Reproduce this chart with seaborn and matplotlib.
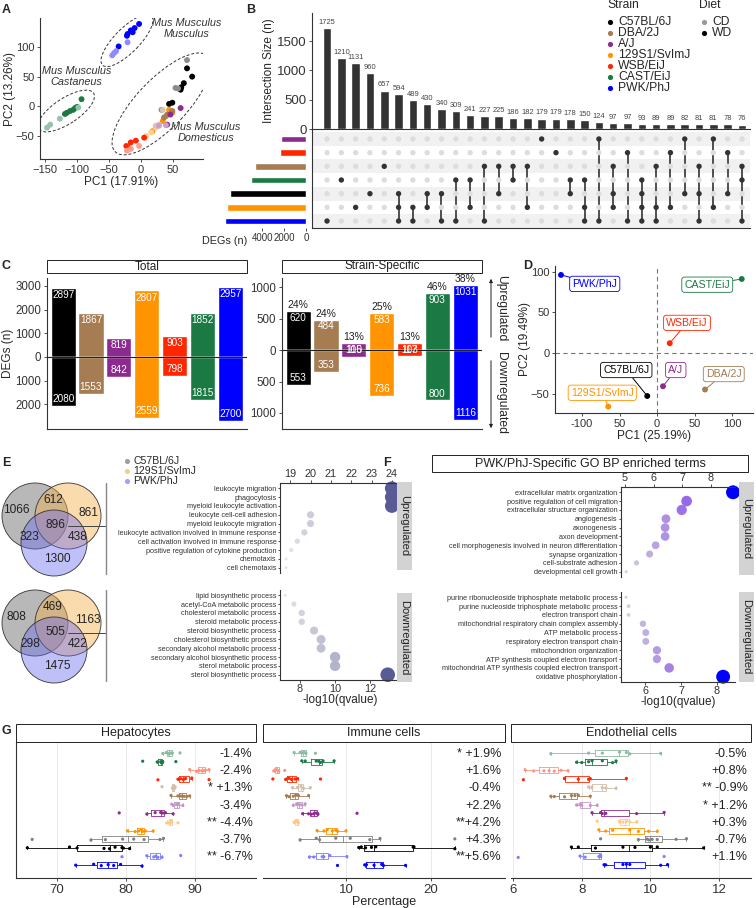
import matplotlib
matplotlib.use("Agg")
import matplotlib.pyplot as plt
import matplotlib.transforms as mtransforms
from matplotlib.colors import LinearSegmentedColormap, to_rgb, Normalize
from matplotlib.patches import Ellipse, Circle, Rectangle
import numpy as np
import pandas as pd
import seaborn as sns

# ---------------- data ----------------
STRAINS = ["C57BL/6J", "DBA/2J", "A/J", "129S1/SvImJ", "WSB/EiJ", "CAST/EiJ", "PWK/PhJ"]
STRAIN_COLORS = ["#000000", "#a67c52", "#8b2a8f", "#ff9300", "#ff2600", "#1b7a43", "#0000ff"]

# A: PCA of all samples
A_PC1 = [-3, -10, -16, -21, -22, -13, -35, -21, -39, -45, -42,
         -93, -100, -106, -111, -116, -119, -103, -127, -142, -147, -98,
         72, 80, 67, 62, 49, 44, 63, 72, 54, 32, 58,
         44, 39, 34, 49, 18, 23, 8, 16,
         -8, -16, -23, 5, -20, -22, -16, -3,
         36, 41, 49, 34, 28, 23,
         62, 41, 46, 39, 28]
A_PC2 = [139, 132, 128, 122, 119, 125, 101, 108, 93, 86, 90,
         12, -1, -6, -8, -11, -13, -3, -21, -31, -36, -2,
         64, 50, 39, 28, 6, 4, 32, 78, 31, -6, 30,
         -6, -17, -25, -11, -42, -36, -50, -44,
         -58, -61, -67, -53, -70, -75, -72, -67,
         -19, -14, -8, -6, -31, -33,
         -3, -31, -14, -32, -33]
A_GROUP = (["PWK/PhJ WD"] * 7 + ["PWK/PhJ CD"] * 4 + ["CAST/EiJ WD"] * 7 + ["CAST/EiJ CD"] * 4
           + ["C57BL/6J WD"] * 7 + ["C57BL/6J CD"] * 4 + ["129S1/SvImJ WD"] * 5 + ["129S1/SvImJ CD"] * 3
           + ["WSB/EiJ WD"] * 5 + ["WSB/EiJ CD"] * 3 + ["DBA/2J WD"] * 3 + ["DBA/2J CD"] * 3
           + ["A/J WD"] * 3 + ["A/J CD"] * 2)

# B: upset plot
UPSET_SIZES = [1725, 1210, 1131, 960, 657, 594, 489, 430, 340, 309, 241, 227, 225, 186, 182,
               179, 179, 178, 150, 124, 97, 97, 93, 89, 89, 82, 81, 81, 78, 76]
UPSET_SETS = ["A/J", "WSB/EiJ", "DBA/2J", "CAST/EiJ", "C57BL/6J", "129S1/SvImJ", "PWK/PhJ"]
UPSET_SET_SIZES = [2290, 2380, 4660, 5030, 6950, 7220, 7400]
UPSET_MEMBERS = [[6], [3], [5], [4], [2], [4, 5, 6], [5, 6], [4, 5], [4, 6], [3, 6], [3, 5], [2, 6],
                 [2, 4], [2, 3], [2, 5], [0], [1], [3, 4], [3, 5, 6], [0, 6], [2, 4, 5], [1, 6],
                 [3, 4, 5, 6], [2, 5, 6], [1, 5], [0, 4], [2, 4, 6], [0, 5], [1, 4], [2, 3, 6]]

# C: DEG counts
TOTAL_UP = [2897, 1867, 819, 2807, 903, 1852, 2957]
TOTAL_DOWN = [2080, 1553, 842, 2559, 798, 1815, 2700]
SPEC_UP = [620, 484, 110, 583, 117, 903, 1031]
SPEC_DOWN = [553, 353, 105, 736, 103, 800, 1116]
SPEC_PCT = ["24%", "24%", "13%", "25%", "13%", "46%", "38%"]

# D: strain-level PCA
D_PC1 = [-128, 113, 17, 8, 64, -13, -65]
D_PC2 = [96, 91, 12, -41, -45, -53, -66]
D_STRAIN = ["PWK/PhJ", "CAST/EiJ", "WSB/EiJ", "A/J", "DBA/2J", "C57BL/6J", "129S1/SvImJ"]
D_LABEL_X = [-83, 67, 40, 25, 89, -41, -73]
D_LABEL_Y = [85, 84, 37, -21, -26, -21, -49]

# E: venn counts and GO terms
VENN_UP = ["1066", "612", "861", "896", "323", "438", "1300"]
VENN_DOWN = ["808", "469", "1163", "505", "298", "422", "1475"]
E_UP_TERMS = ["leukocyte migration", "phagocytosis", "myeloid leukocyte activation",
              "leukocyte cell-cell adhesion", "myeloid leukocyte migration",
              "leukocyte activation involved in immune response",
              "cell activation involved in immune response",
              "positive regulation of cytokine production", "chemotaxis", "cell chemotaxis"]
E_UP_Q = [24.0, 24.0, 24.0, 20.0, 20.0, 19.7, 19.35, 19.05, 18.8, 18.8]
E_DOWN_TERMS = ["lipid biosynthetic process", "acetyl-CoA metabolic process",
                "cholesterol metabolic process", "steroid metabolic process",
                "steroid biosynthetic process", "cholesterol biosynthetic process",
                "secondary alcohol metabolic process", "secondary alcohol biosynthetic process",
                "sterol metabolic process", "sterol biosynthetic process"]
E_DOWN_Q = [7.15, 7.65, 8.1, 8.1, 8.8, 9.2, 9.2, 10.0, 10.0, 13.0]

# F: PWK-specific GO terms
F_UP_TERMS = ["extracellular matrix organization", "positive regulation of cell migration",
              "extracellular structure organization", "angiogenesis", "axonogenesis",
              "axon development", "cell morphogenesis involved in neuron differentiation",
              "synapse organization", "cell-substrate adhesion", "developmental cell growth"]
F_UP_Q = [8.77, 7.15, 6.98, 6.43, 6.40, 6.40, 6.07, 5.86, 5.40, 5.04]
F_DOWN_TERMS = ["purine ribonucleoside triphosphate metabolic process",
                "purine nucleoside triphosphate metabolic process", "electron transport chain",
                "mitochondrial respiratory chain complex assembly", "ATP metabolic process",
                "respiratory electron transport chain", "mitochondrion organization",
                "ATP synthesis coupled electron transport",
                "mitochondrial ATP synthesis coupled electron transport", "oxidative phosphorylation"]
F_DOWN_Q = [5.47, 5.54, 5.54, 5.94, 6.02, 6.02, 6.33, 6.33, 6.67, 8.17]

# G: cell type proportions (top to bottom: strain CD, strain WD)
G_STRAIN_ORDER = ["CAST/EiJ", "WSB/EiJ", "DBA/2J", "A/J", "129S1/SvImJ", "C57BL/6J", "PWK/PhJ"]
HEP = [[85.3, 85.8, 86.0, 86.2, 86.5, 86.7, 87.8], [82.4, 84.5, 85.0, 85.1, 85.3, 87.2],
       [89.2, 90.2, 90.6, 91.0, 91.3, 91.5, 92.0], [84.6, 87.5, 87.9, 88.3, 88.6, 89.5, 92.0],
       [85.2, 86.7, 86.8, 87.0, 87.1], [86.5, 87.5, 87.8, 88.1, 88.4, 88.8, 89.2],
       [86.6, 86.9, 87.3, 87.6, 88.2], [79.0, 83.0, 84.2, 85.0, 85.3, 85.7, 86.8],
       [85.9, 86.2, 86.4, 86.6, 87.5], [80.2, 81.3, 81.8, 82.2, 82.4, 82.8, 83.9],
       [66.4, 74.9, 77.0, 79.5, 81.1, 82.6, 84.9, 85.4], [65.7, 71.8, 72.9, 76.8, 77.6, 78.4, 79.4, 79.6, 80.5],
       [79.4, 83.0, 84.0, 84.3, 84.6, 85.2, 87.9], [72.7, 75.3, 76.4, 77.4, 78.2, 79.2, 82.3]]
IMM = [[3.9, 4.6, 4.9, 5.1, 5.3, 6.4], [4.8, 5.2, 6.5, 6.8, 7.0, 7.3, 8.6],
       [1.5, 1.7, 1.9, 2.1, 2.8], [1.4, 2.9, 3.3, 3.6, 4.0, 4.3, 7.0],
       [3.7, 4.3, 4.7, 5.0, 5.8], [3.0, 3.3, 3.8, 4.1, 4.4, 5.6],
       [3.8, 4.2, 4.5, 4.8, 5.2], [4.9, 5.6, 5.9, 6.2, 6.5, 6.7, 11.3],
       [3.9, 4.1, 4.3, 4.4], [6.6, 7.4, 7.8, 8.4, 8.8, 9.0, 10.0],
       [4.6, 6.5, 6.9, 8.8, 10.5, 12.8, 14.0, 22.8], [11.5, 11.8, 12.3, 13.0, 13.5, 17.9, 18.0, 22.8],
       [5.7, 6.2, 7.2, 7.4, 8.1, 10.1], [9.0, 12.2, 12.4, 13.3, 14.2, 14.4, 17.0]]
ENDO = [[7.1, 8.2, 8.6, 9.1, 9.3, 9.4, 10.3], [7.85, 8.0, 8.2, 8.3, 8.6, 8.9, 9.0],
        [6.35, 6.6, 6.9, 7.05, 7.2, 7.4, 7.6], [6.3, 7.5, 7.5, 7.9, 8.2, 8.25, 9.3],
        [8.2, 8.3, 8.6, 8.7, 9.0], [7.1, 7.2, 7.5, 7.7, 7.8, 7.9, 8.25],
        [7.85, 7.95, 8.0, 8.25, 8.45], [8.3, 8.55, 8.6, 8.7, 9.6, 10.4],
        [8.45, 9.1, 9.2, 9.3, 9.4, 9.6], [8.5, 8.7, 8.9, 9.4, 9.65, 9.95, 10.2],
        [8.55, 9.65, 9.9, 9.95, 10.05, 10.2, 10.75, 11.05], [7.7, 7.9, 8.4, 9.2, 9.55, 10.0, 10.2, 11.55],
        [6.15, 7.95, 8.1, 8.5, 8.55, 8.55, 10.4], [8.65, 8.7, 9.2, 9.3, 9.4, 10.3, 10.5]]
HEP_LABELS = ["-1.4%", "-2.4%", "* +1.3%", "-3.4%", "** -4.4%", "-3.7%", "** -6.7%"]
IMM_LABELS = ["* +1.9%", "+1.6%", "-0.4%", "+2.2%", "**+4.2%", "+4.3%", "**+5.6%"]
ENDO_LABELS = ["-0.5%", "+0.8%", "** -0.9%", "* +1.2%", "+0.3%", "-0.7%", "+1.1%"]

# ---------------- style ----------------
sns.set_theme(style="white")
plt.rcParams["font.family"] = ["Liberation Sans", "DejaVu Sans"]
plt.rcParams["axes.edgecolor"] = "#333333"
plt.rcParams["axes.linewidth"] = 0.8
plt.rcParams["xtick.color"] = "#333333"
plt.rcParams["ytick.color"] = "#333333"
plt.rcParams["xtick.major.size"] = 2.5
plt.rcParams["ytick.major.size"] = 2.5
plt.rcParams["xtick.major.width"] = 0.6
plt.rcParams["ytick.major.width"] = 0.6
plt.rcParams["xtick.major.pad"] = 1.5
plt.rcParams["ytick.major.pad"] = 1.5
plt.rcParams["xtick.bottom"] = True
plt.rcParams["ytick.left"] = True

W, H = 756, 908
fig = plt.figure(figsize=(W / 100, H / 100), dpi=100)
COLOR = dict(zip(STRAINS, STRAIN_COLORS))
TXT = "#222222"


def light(c, f=0.5):
    r = np.array(to_rgb(c))
    return tuple(r + (1 - r) * f)


def add_ax(x0, y0, x1, y1):
    ax = fig.add_axes([x0 / W, 1 - y1 / H, (x1 - x0) / W, (y1 - y0) / H])
    ax.patch.set_alpha(0)
    return ax


def classic(ax, spines=("left", "bottom")):
    for s in ["left", "right", "top", "bottom"]:
        ax.spines[s].set_visible(s in spines)


# ---------------- A ----------------
ax = add_ax(40, 18, 203, 159)
a_pal = {}
for s in STRAINS:
    a_pal[s + " WD"] = COLOR[s]
    a_pal[s + " CD"] = light(COLOR[s], 0.55)
a_df = pd.DataFrame({"PC1": A_PC1, "PC2": A_PC2, "group": A_GROUP})
sns.scatterplot(data=a_df, x="PC1", y="PC2", hue="group", palette=a_pal, s=18, linewidth=0,
                legend=False, ax=ax)
for (cx, cy), w, h, ang in [((-22, 111), 113, 40, 48), ((-117, -8), 105, 42, 36), ((32, 4), 217, 80, 49)]:
    ax.add_patch(Ellipse((cx, cy), w, h, angle=ang, fill=False, ls=(0, (3, 2)), lw=0.7, ec="#333333"))
for x, y, t in [(72, 131, "Mus Musculus\nMusculus"), (-101, 50, "Mus Musculus\nCastaneus"),
                (101, -44, "Mus Musculus\nDomesticus")]:
    ax.text(x, y, t, ha="center", va="center", style="italic", fontsize=7.8, color="#333333",
            linespacing=1.05, clip_on=False)
ax.set_xlim(-158, 97)
ax.set_ylim(-89, 149)
ax.set_xticks([-150, -100, -50, 0, 50])
ax.set_yticks([-50, 0, 50, 100])
ax.tick_params(labelsize=8)
ax.set_xlabel("PC1 (17.91%)", fontsize=8.5, labelpad=1)
ax.set_ylabel("PC2 (13.26%)", fontsize=8.5, labelpad=0)
classic(ax)

# ---------------- B: upset ----------------
n_cols = len(UPSET_SIZES)
ax = add_ax(312, 13, 750, 129)
sns.barplot(x=list(range(n_cols)), y=UPSET_SIZES, color="#333333", saturation=1, width=0.6, ax=ax)
for i, v in enumerate(UPSET_SIZES):
    ax.text(i, v + 35, str(v), ha="center", va="bottom", fontsize=5.4, color="#444444")
ax.set_xlim(-1.05, 29.56)
ax.set_ylim(0, 1980)
ax.set_xticks([])
ax.set_yticks([0, 500, 1000, 1500])
ax.tick_params(labelsize=9.5)
ax.set_ylabel("Intersection Size (n)", fontsize=8.5, labelpad=1)
classic(ax)

ax = add_ax(312, 129, 750, 228)
for r in range(0, 7, 2):
    ax.axhspan(r - 0.5, r + 0.5, color="#f1f1f1", lw=0, zorder=0)
rows, cols, hit = [], [], []
for ci, members in enumerate(UPSET_MEMBERS):
    for r in range(7):
        rows.append(r)
        cols.append(ci)
        hit.append("in" if r in members else "out")
m_df = pd.DataFrame({"col": cols, "row": rows, "hit": hit})
multi = [ci for ci, m in enumerate(UPSET_MEMBERS) if len(m) > 1]
ax.vlines(multi, [min(UPSET_MEMBERS[c]) for c in multi], [max(UPSET_MEMBERS[c]) for c in multi],
          color="#333333", lw=1.2, zorder=2)
sns.scatterplot(data=m_df, x="col", y="row", hue="hit", palette={"in": "#333333", "out": "#dddddd"},
                s=15, linewidth=0, legend=False, zorder=3, ax=ax)
ax.set_xlim(-1.05, 29.56)
ax.set_ylim(6.51, -0.73)
ax.set_xticks([])
ax.set_yticks([])
ax.set_xlabel("")
ax.set_ylabel("")
classic(ax)

ax = add_ax(224, 129, 306, 228)
s_df = pd.DataFrame({"set": UPSET_SETS, "size": UPSET_SET_SIZES})
sns.barplot(data=s_df, y="set", x="size", hue="set", orient="h",
            palette=[COLOR[s] for s in UPSET_SETS], saturation=1, width=0.5, legend=False, ax=ax)
ax.set_xlim(7500, 0)
ax.set_ylim(6.51, -0.73)
ax.set_yticks([])
ax.set_ylabel("")
ax.set_xlabel("")
ax.set_xticks([4000, 2000, 0])
ax.tick_params(axis="x", labelsize=7, pad=1)
classic(ax, spines=())

# ---------------- C ----------------
def deg_panel(ax, up, down, pad, ticks, ylim, pct=None):
    df = pd.DataFrame({"strain": STRAINS, "up": up, "down": [-d for d in down]})
    for col in ["up", "down"]:
        sns.barplot(data=df, x="strain", y=col, hue="strain", palette=STRAIN_COLORS, saturation=1,
                    width=0.9, legend=False, errorbar=None, ax=ax)
    ax.axhline(0, color=TXT, lw=0.8, zorder=5)
    for i in range(len(STRAINS)):
        ax.text(i, up[i] - pad, str(up[i]), ha="center", va="top", color="white", fontsize=7.2, zorder=6)
        ax.text(i, -down[i] + pad, str(down[i]), ha="center", va="bottom", color="white", fontsize=7.2, zorder=6)
        if pct is not None:
            ax.text(i, up[i] + pad * 0.5, pct[i], ha="center", va="bottom", fontsize=7.5, color=TXT,
                    clip_on=False)
    ax.set_xlim(-0.58, 6.6)
    ax.set_ylim(*ylim)
    ax.set_yticks(ticks)
    ax.set_yticklabels([str(abs(t)) for t in ticks])
    ax.set_xticks([])
    ax.set_xlabel("")
    ax.set_ylabel("")
    ax.tick_params(labelsize=8.3)
    classic(ax)


ax = add_ax(47, 278, 247, 429)
deg_panel(ax, TOTAL_UP, TOTAL_DOWN, 90, [-2000, -1000, 0, 1000, 2000, 3000], (-3038, 3333))
ax.set_ylabel("DEGs (n)", fontsize=8.5, labelpad=1)
ax = add_ax(282, 278, 482, 429)
deg_panel(ax, SPEC_UP, SPEC_DOWN, 30, [-1000, -500, 0, 500, 1000], (-1254, 1143), SPEC_PCT)

# ---------------- D ----------------
ax = add_ax(555, 266, 753, 413)
d_df = pd.DataFrame({"PC1": D_PC1, "PC2": D_PC2, "strain": D_STRAIN})
ax.axvline(0, color="#777777", ls=(0, (4, 3)), lw=0.8)
ax.axhline(0, color="#777777", ls=(0, (4, 3)), lw=0.8)
sns.scatterplot(data=d_df, x="PC1", y="PC2", hue="strain", palette=COLOR, s=18, linewidth=0,
                legend=False, zorder=4, ax=ax)
for s, px, py, lx, ly in zip(D_STRAIN, D_PC1, D_PC2, D_LABEL_X, D_LABEL_Y):
    ax.annotate(s, xy=(px, py), xytext=(lx, ly), ha="center", va="center", fontsize=7.6, color=COLOR[s],
                bbox=dict(boxstyle="round,pad=0.25", fc="white", ec=COLOR[s], lw=0.6),
                arrowprops=dict(arrowstyle="-", color=COLOR[s], lw=0.7, shrinkA=0, shrinkB=1))
ax.set_xlim(-136, 128)
ax.set_ylim(-73.9, 107)
ax.set_xticks([-100, -50, 0, 50, 100])
ax.set_xticklabels(["-100", "50", "0", "50", "100"])
ax.set_yticks([-50, 0, 50, 100])
ax.tick_params(labelsize=8)
ax.set_xlabel("PC1 (25.19%)", fontsize=8.5, labelpad=1)
ax.set_ylabel("PC2 (19.49%)", fontsize=8.5, labelpad=0)
classic(ax)

# ---------------- E / F dot plots ----------------
E_CMAP = LinearSegmentedColormap.from_list("e", ["#e3e3ea", "#b2b2ca", "#585b95"])
F_CMAP = LinearSegmentedColormap.from_list("f", [(0, "#d4d4d4"), (0.3, "#b79fe2"), (0.6, "#9462e8"), (1, "#0000ff")])


def go_dots(ax, terms, q, cmap, sizes, xlim, ticks, top):
    df = pd.DataFrame({"term": terms, "q": q, "pos": range(len(terms))})
    sns.scatterplot(data=df, x="q", y="pos", hue="q", size="q", palette=cmap,
                    hue_norm=Normalize(min(q), max(q)), size_norm=Normalize(min(q), max(q)),
                    sizes=sizes, linewidth=0, legend=False, clip_on=False, ax=ax)
    ax.set_yticks(range(len(terms)))
    ax.set_yticklabels(terms)
    ax.set_ylim(len(terms) - 0.4, -0.6)
    ax.set_xlim(*xlim)
    ax.set_xticks(ticks)
    ax.tick_params(axis="y", labelsize=5.2, pad=1, length=1.5)
    ax.tick_params(axis="x", labelsize=7.8, pad=1, length=2)
    ax.set_xlabel("")
    ax.set_ylabel("")
    if top:
        ax.xaxis.tick_top()
        classic(ax, ("left", "top"))
    else:
        classic(ax, ("left", "bottom"))


ax = add_ax(280, 483, 400, 573)
go_dots(ax, E_UP_TERMS, E_UP_Q, E_CMAP, (4, 100), (18.5, 24.4), [19, 20, 21, 22, 23, 24], True)
ax = add_ax(280, 590, 400, 680)
go_dots(ax, E_DOWN_TERMS, E_DOWN_Q, E_CMAP, (4, 110), (6.86, 13.7), [8, 10, 12], False)
ax.set_xlabel("-log10(qvalue)", fontsize=8.5, labelpad=0)

ax = add_ax(621, 487, 735, 577)
go_dots(ax, F_UP_TERMS, F_UP_Q, F_CMAP, (5, 100), (4.86, 8.84), [5, 6, 7, 8], True)
ax = add_ax(621, 592, 735, 682)
go_dots(ax, F_DOWN_TERMS, F_DOWN_Q, F_CMAP, (5, 100), (5.33, 8.5), [6, 7, 8], False)
ax.set_xlabel("-log10(qvalue)", fontsize=8.5, labelpad=0)

# ---------------- G ----------------
G_GROUPS = [f"{s} {d}" for s in G_STRAIN_ORDER for d in ("CD", "WD")]
g_pal = {}
for s in G_STRAIN_ORDER:
    g_pal[s + " CD"] = light(COLOR[s], 0.5)
    g_pal[s + " WD"] = COLOR[s]


def cell_panel(ax, values, labels, xlim, ticks, first):
    grp, val = [], []
    for g, vals in zip(G_GROUPS, values):
        grp += [g] * len(vals)
        val += vals
    df = pd.DataFrame({"group": grp, "pct": val})
    for t in ticks:
        ax.axvline(t, color="#e6e6e6", lw=0.6, zorder=0)
    sns.boxplot(data=df, x="pct", y="group", hue="group", order=G_GROUPS, hue_order=G_GROUPS,
                palette=g_pal, fill=False, width=0.7, linewidth=0.6, showfliers=False,
                saturation=1, legend=False, ax=ax)
    sns.stripplot(data=df, x="pct", y="group", hue="group", order=G_GROUPS, hue_order=G_GROUPS,
                  palette=g_pal, size=2.3, jitter=0.12, linewidth=0, legend=False, ax=ax)
    tr = mtransforms.blended_transform_factory(ax.transAxes, ax.transData)
    for k, lab in enumerate(labels):
        ax.text(0.985, 2 * k + 0.1, lab, transform=tr, ha="right", va="center", fontsize=9, color=TXT)
    ax.set_xlim(*xlim)
    ax.set_ylim(14.5, -1.28)
    ax.set_xticks(ticks)
    ax.set_yticks([])
    ax.set_xlabel("")
    ax.set_ylabel("")
    ax.tick_params(axis="x", labelsize=9.5)
    classic(ax, ("left", "bottom") if first else ("bottom",))


ax = add_ax(16, 742, 256, 878)
cell_panel(ax, HEP, HEP_LABELS, (64.06, 98.8), [70, 80, 90], True)
ax = add_ax(263, 742, 505, 878)
cell_panel(ax, IMM, IMM_LABELS, (0.24, 28.7), [10, 20], False)
ax.set_xlabel("Percentage", fontsize=9, labelpad=0)
ax = add_ax(511, 742, 751, 878)
cell_panel(ax, ENDO, ENDO_LABELS, (5.94, 12.93), [6, 8, 10, 12], False)

# ---------------- overlay: letters, strips, legends, venns ----------------
ov = fig.add_axes([0, 0, 1, 1], zorder=10)
ov.set_xlim(0, W)
ov.set_ylim(H, 0)
ov.axis("off")
ov.patch.set_alpha(0)

for letter, x, y in [("A", 2, 10), ("B", 246, 10), ("C", 2, 266), ("D", 523, 266),
                     ("E", 2, 463), ("F", 383, 463), ("G", 2, 731)]:
    ov.text(x, y, letter, fontsize=9, fontweight="bold", va="center", ha="left")


def strip(x0, y0, x1, y1, text, fc="white", ec=TXT, rot=0, fs=8.5):
    ov.add_patch(Rectangle((x0, y0), x1 - x0, y1 - y0, fc=fc, ec=ec, lw=0.7))
    ov.text((x0 + x1) / 2, (y0 + y1) / 2, text, ha="center", va="center", rotation=rot, fontsize=fs, color=TXT)


strip(47, 260, 247, 273, "Total")
strip(282, 260, 482, 273, "Strain-Specific")
strip(432, 455, 748, 472, "PWK/PhJ-Specific GO BP enriched terms", fs=9)
strip(397, 482, 412, 570, "Upregulated", fc="#d3d3d3", ec="none", rot=270, fs=8)
strip(397, 593, 412, 682, "Downregulated", fc="#d3d3d3", ec="none", rot=270, fs=8)
strip(739, 482, 754, 575, "Upregulated", fc="#d3d3d3", ec="none", rot=270, fs=8)
strip(739, 592, 754, 682, "Downregulated", fc="#d3d3d3", ec="none", rot=270, fs=8)
strip(16, 724, 256, 742, "Hepatocytes", fs=9)
strip(263, 724, 505, 742, "Immune cells", fs=9)
strip(511, 724, 751, 742, "Endothelial cells", fs=9)

# C arrows
ov.annotate("", xy=(491, 276), xytext=(491, 340), arrowprops=dict(arrowstyle="-|>", color=TXT, lw=0.7,
                                                                     mutation_scale=5))
ov.annotate("", xy=(491, 431), xytext=(491, 358), arrowprops=dict(arrowstyle="-|>", color=TXT, lw=0.7,
                                                                     mutation_scale=5))
ov.text(501, 308, "Upregulated", rotation=270, ha="center", va="center", fontsize=8.7)
ov.text(501, 393, "Downregulated", rotation=270, ha="center", va="center", fontsize=8.7)

# B legends
ov.text(607, 5, "Strain", fontsize=8.7, va="center")
for k, s in enumerate(STRAINS):
    ov.scatter(610, 22 + 11 * k, s=14, color=COLOR[s], lw=0)
    ov.text(618, 22 + 11 * k, s, fontsize=8.7, va="center")
ov.text(699, 5, "Diet", fontsize=8.7, va="center")
for k, (d, c) in enumerate([("CD", "#999999"), ("WD", "#000000")]):
    ov.scatter(704, 22 + 11 * k, s=14, color=c, lw=0)
    ov.text(712, 22 + 11 * k, d, fontsize=8.7, va="center")
ov.text(247, 241, "DEGs (n)", fontsize=7.8, ha="right", va="center")

# E legend and venns
VENN_COLORS = [("C57BL/6J", "#7f7f7f", 0.55), ("129S1/SvImJ", "#f6b04a", 0.45), ("PWK/PhJ", "#6a6af2", 0.42)]
for k, (s, c, a) in enumerate(VENN_COLORS):
    ov.scatter(127, 461 + 10 * k, s=14, color=c, alpha=min(1, a + 0.2), lw=0)
    ov.text(133, 461 + 10 * k, s, fontsize=7.6, va="center")
for dy, counts in [(0, VENN_UP), (107, VENN_DOWN)]:
    for (cx, cy), (s, c, a) in zip([(35, 516), (68, 516), (54, 543)], VENN_COLORS):
        ov.add_patch(Circle((cx, cy + dy), 33, fc=c, alpha=a, ec="none"))
        ov.add_patch(Circle((cx, cy + dy), 33, fc="none", ec="#333333", lw=0.6))
    for (tx, ty), t in zip([(16, 510), (53, 500), (88, 513), (55, 525), (30, 537), (78, 537), (57, 559)], counts):
        ov.text(tx, ty + dy, t, fontsize=8.6, ha="center", va="center", color=TXT)
    ov.plot([68, 106], [526 + dy, 526 + dy], color="#444444", lw=0.7)
    ov.plot([106, 106], [483 + dy, 574 + dy], color="#888888", lw=1.0)

fig.savefig("out.png", dpi=100)
